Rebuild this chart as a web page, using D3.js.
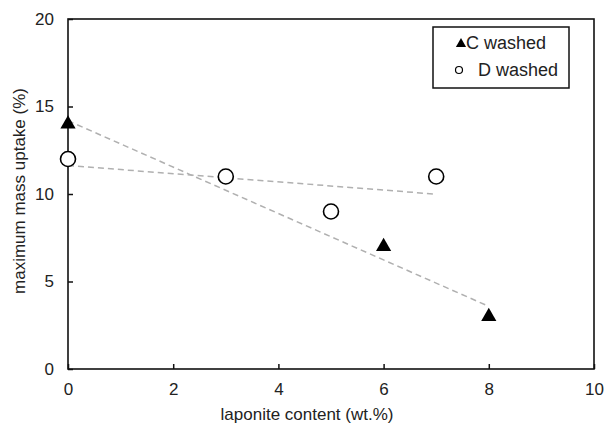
<!DOCTYPE html>
<html><head><meta charset="utf-8">
<script src="https://cdn.jsdelivr.net/npm/d3@7"></script>
<style>body{margin:0;background:#fff}svg{display:block;font-family:"Liberation Sans",Arial,sans-serif}</style>
</head><body><svg id="c" width="605" height="430"></svg>
<script>
const xTicks = [0, 2, 4, 6, 8, 10];
const yTicks = [0, 5, 10, 15, 20];
const cX = [0, 6, 8];
const cY = [14, 7, 3];
const dX = [0, 3, 5, 7];
const dY = [12, 11, 9, 11];
const cTrendX = [0, 8];
const cTrendY = [14.19, 3.58];
const dTrendX = [0, 7];
const dTrendY = [11.63, 9.99];
const seriesNames = ["C washed", "D washed"];

const svg = d3.select("#c");
const m = {l: 68, r: 11, t: 19, b: 61};
const W = 605, H = 430;
const x = d3.scaleLinear().domain([0, 10]).range([m.l, W - m.r]);
const y = d3.scaleLinear().domain([0, 20]).range([H - m.b, m.t]);

// frame
svg.append("rect").attr("x", m.l).attr("y", m.t).attr("width", W - m.r - m.l).attr("height", H - m.b - m.t)
  .attr("fill", "none").attr("stroke", "#111").attr("stroke-width", 1.6);

const xAxis = svg.append("g").attr("transform", `translate(0,${H - m.b})`)
  .call(d3.axisBottom(x).tickValues(xTicks).tickSize(-5).tickPadding(14).tickFormat(d3.format("d")));
const yAxis = svg.append("g").attr("transform", `translate(${m.l},0)`)
  .call(d3.axisLeft(y).tickValues(yTicks).tickSize(-5).tickPadding(14).tickFormat(d3.format("d")));
[xAxis, yAxis].forEach(a => {
  a.select(".domain").remove();
  a.selectAll("line").attr("stroke", "#111").attr("stroke-width", 1.5);
  a.selectAll("text").attr("font-size", 17).attr("fill", "#222").style("font-family", "Liberation Sans, Arial, sans-serif");
});

svg.append("text").attr("x", (m.l + W - m.r) / 2 - 24).attr("y", 420).attr("text-anchor", "middle")
  .attr("font-size", 17).attr("fill", "#222").text("laponite content (wt.%)");
svg.append("text").attr("transform", `translate(25,${(m.t + H - m.b) / 2 - 3}) rotate(-90)`).attr("text-anchor", "middle")
  .attr("font-size", 17).attr("fill", "#222").text("maximum mass uptake (%)");

// trend lines
const line = d3.line().x(d => x(d[0])).y(d => y(d[1]));
[[cTrendX, cTrendY], [dTrendX, dTrendY]].forEach(([xs, ys]) => {
  svg.append("path").attr("d", line(xs.map((v, i) => [v, ys[i]])))
    .attr("fill", "none").attr("stroke", "#b0b0b0").attr("stroke-width", 1.5).attr("stroke-dasharray", "6,4");
});

const tri = d3.symbol().type(d3.symbolTriangle).size(100);
svg.selectAll(".c").data(cX.map((v, i) => [v, cY[i]])).enter().append("path")
  .attr("d", tri).attr("transform", d => `translate(${x(d[0])},${y(d[1])})`).attr("fill", "#000");
svg.selectAll(".d").data(dX.map((v, i) => [v, dY[i]])).enter().append("circle")
  .attr("cx", d => x(d[0])).attr("cy", d => y(d[1])).attr("r", 7.5)
  .attr("fill", "#fff").attr("stroke", "#000").attr("stroke-width", 1.6);

// legend
const lg = svg.append("g");
lg.append("rect").attr("x", 433).attr("y", 27).attr("width", 136).attr("height", 61)
  .attr("fill", "#fff").attr("stroke", "#111").attr("stroke-width", 1.5);
lg.append("path").attr("d", d3.symbol().type(d3.symbolTriangle).size(45)).attr("transform", "translate(461,44)").attr("fill", "#000");
lg.append("text").attr("x", 466).attr("y", 49).attr("font-size", 18).attr("fill", "#222").text(seriesNames[0]);
lg.append("circle").attr("cx", 459).attr("cy", 70).attr("r", 3.5).attr("fill", "#fff").attr("stroke", "#000").attr("stroke-width", 1.2);
lg.append("text").attr("x", 478).attr("y", 76).attr("font-size", 18).attr("fill", "#222").text(seriesNames[1]);
</script></body></html>
